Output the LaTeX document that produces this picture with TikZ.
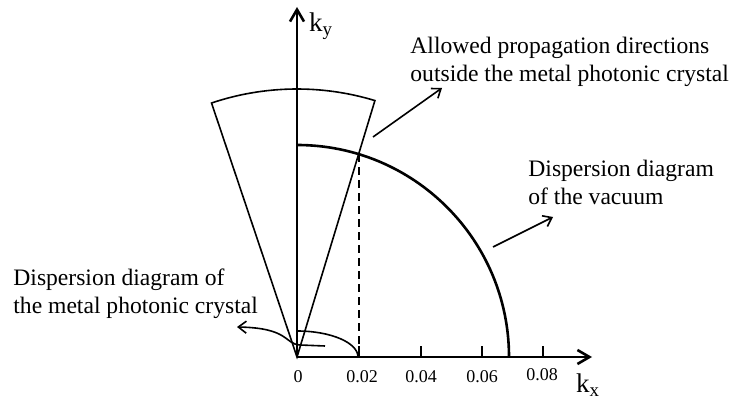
\documentclass[tikz,border=0pt]{standalone}
\usepackage{fontspec}
\setmainfont{Liberation Serif}
\usepackage{tikz}
\usetikzlibrary{arrows.meta}
\usetikzlibrary{calc}
\tikzset{
    axisarrow/.style={-{Straight Barb[length=6pt,width=7pt]}, line width=1.3pt},
    notearrow/.style={-{Straight Barb[length=4pt,width=6pt]}, line width=0.8pt},
    notetext/.style={anchor=west, align=left, inner sep=0pt, font=\fontsize{11.8}{14}\selectfont},
    ticktext/.style={inner sep=0pt, font=\fontsize{9}{10}\selectfont}
}

\begin{document}
\begin{tikzpicture}[x=0.5pt,y=0.5pt]
    \useasboundingbox (0,0) rectangle (737,400);

    \coordinate (O) at (297,43);
    \coordinate (ytop) at (297,393);
    \coordinate (xend) at (592,43);

    % fan of allowed directions
    \draw[line width=0.8pt] (O) -- ($(O)+(73.1:268)$) arc[start angle=73.1, end angle=108.6, radius=268] -- cycle;

    % vacuum circle
    \draw[line width=1.3pt] ($(O)+(0:212)$) arc[start angle=0, end angle=90, radius=212];
    \coordinate (D) at ($(O)+(73:212)$);
    \draw[line width=0.8pt, dash pattern=on 4pt off 2.5pt] (D) -- (D |- O);

    % metal photonic crystal
    \draw[line width=0.8pt] (297,69) arc[start angle=90, end angle=0, x radius=61, y radius=26];

    % axes
    \draw[axisarrow] (O) -- (ytop);
    \draw[axisarrow] (O) -- (xend);
    \foreach \x in {359,421,482,543}
        \draw[line width=1.3pt] (\x,43) -- (\x,54);

    \node[inner sep=0pt, font=\fontsize{13.5}{16}\selectfont] (ky) at (321,374) {k\textsubscript{y}};
    \node[inner sep=0pt, font=\fontsize{13.5}{16}\selectfont] (kx) at (588,15) {k\textsubscript{x}};
    \node[ticktext] (t0) at (298,23) {0};
    \node[ticktext] (t2) at (362,23) {0.02};
    \node[ticktext] (t4) at (421,23) {0.04};
    \node[ticktext] (t6) at (482,23) {0.06};
    \node[ticktext] (t8) at (542,25) {0.08};

    % notes
    \node[notetext] (allowed) at (410,338) {Allowed propagation directions\\outside the metal photonic crystal};
    \node[notetext] (vacuum) at (528,218) {Dispersion diagram\\of the vacuum};
    \node[notetext] (metal) at (13,106) {Dispersion diagram of\\the metal photonic crystal};

    \coordinate (a1) at (373,263);
    \coordinate (a2) at (442,312);
    \path[notearrow] (a1) edge (a2);
    \coordinate (v1) at (493,153);
    \coordinate (v2) at (553,183);
    \path[notearrow] (v1) edge (v2);
    \coordinate (m1) at (325,54);
    \coordinate (m2) at (237,73);
    \draw[notearrow] (m1) -- (300,55) .. controls (284,56) and (290,72) .. (m2);
\end{tikzpicture}
\end{document}
